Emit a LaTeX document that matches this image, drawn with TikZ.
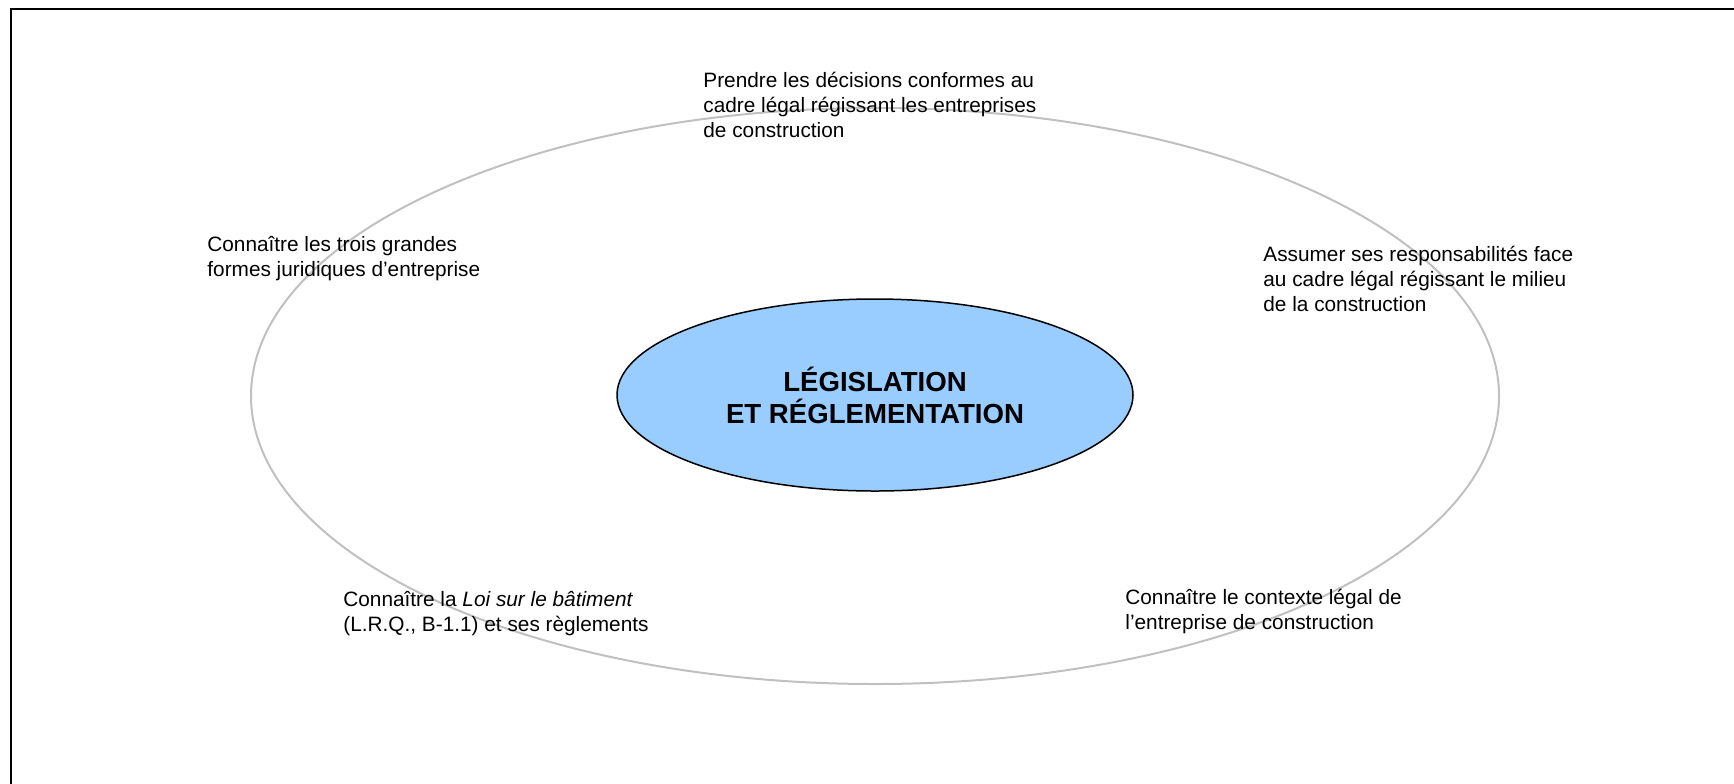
\documentclass[tikz,border=0pt]{standalone}
\usepackage{fontspec}
\setmainfont{Liberation Sans}
\usetikzlibrary{shapes.geometric}
\definecolor{ringgray}{HTML}{C0C0C0}
\definecolor{coreblue}{HTML}{99CCFF}

\begin{document}
\begin{tikzpicture}[x=0.5pt,y=-0.5pt,
    lbl/.style={anchor=north west, inner sep=0pt, align=left,
        font=\fontsize{10.4}{12.5}\selectfont},
    core/.style={ellipse, draw=black, line width=0.75pt, fill=coreblue,
        inner sep=0pt, minimum width=258pt, minimum height=96pt,
        align=center, font=\fontsize{13.8}{16}\selectfont\bfseries}]
    \useasboundingbox (0,0) rectangle (1734,783);

    % Frame: only its top and left edges lie on the page
    \draw[line width=1pt] (11,800) |- (1750,9);

    % Outer ring
    \draw[ringgray, line width=1pt] (875,396) ellipse [x radius=624, y radius=288];

    % Centre
    \node[core] (legis) at (875,395) {LÉGISLATION\\ET RÉGLEMENTATION};

    % Objectives round the ring
    \node[lbl] (decisions) at (703,72) {Prendre les décisions conformes au\\cadre légal régissant les entreprises\\de construction};
    \node[lbl] (formes) at (207,236) {Connaître les trois grandes\\formes juridiques d’entreprise};
    \node[lbl] (assumer) at (1263,246) {Assumer ses responsabilités face\\au cadre légal régissant le milieu\\de la construction};
    \node[lbl] (loi) at (343,591) {Connaître la \textit{Loi sur le bâtiment}\\(L.R.Q., B-1.1) et ses règlements};
    \node[lbl] (contexte) at (1125,589) {Connaître le contexte légal de\\l’entreprise de construction};
\end{tikzpicture}
\end{document}
